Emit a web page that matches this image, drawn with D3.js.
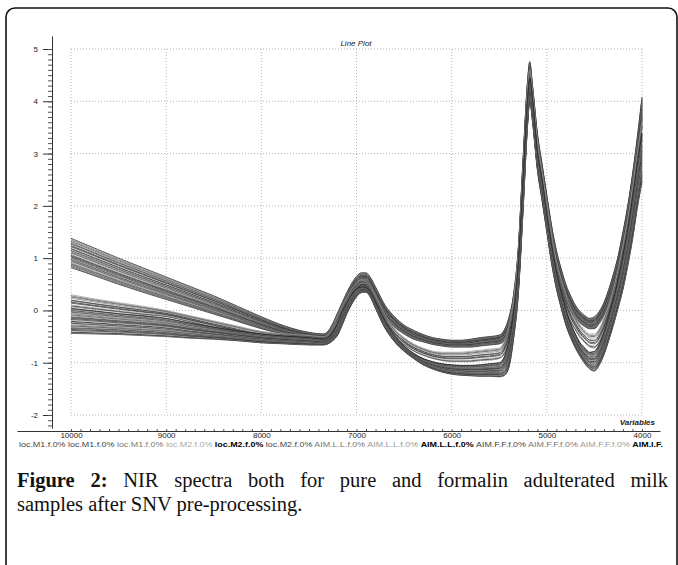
<!DOCTYPE html>
<head>
  <meta charset="utf-8">
  <title>NIR spectra</title>
  <script src="https://d3js.org/d3.v7.min.js"></script>
  <style>
    body { margin:0; background:#fff; }
    svg { display:block; }
    text { font-family: "Liberation Sans", Arial, sans-serif; }
  </style>
</head>
<body>
  <svg width="678" height="565"></svg>
  <script>
    var wavenumbers = [10000, 9750, 9500, 9250, 9000, 8750, 8500, 8250, 8000, 7750,
      7500, 7350, 7300, 7250, 7200, 7150, 7100, 7050, 7000, 6950,
      6900, 6850, 6800, 6700, 6600, 6500, 6400, 6300, 6200, 6100,
      6000, 5900, 5800, 5700, 5600, 5500, 5450, 5400, 5350, 5300,
      5250, 5200, 5180, 5150, 5100, 5050, 5000, 4950, 4900, 4850,
      4800, 4750, 4700, 4650, 4600, 4550, 4500, 4450, 4400, 4350,
      4300, 4250, 4200, 4150, 4100, 4050, 4000];

    // upper bundle (high at 10000), top and bottom edges
    var groupAHi = [1.38, 1.19, 1.00, 0.82, 0.64, 0.46, 0.28, 0.08, -0.12, -0.30,
      -0.42, -0.45, -0.40, -0.25, -0.05, 0.15, 0.35, 0.52, 0.65, 0.72,
      0.72, 0.62, 0.45, 0.10, -0.12, -0.28, -0.38, -0.46, -0.52, -0.55,
      -0.57, -0.57, -0.55, -0.52, -0.50, -0.47, -0.38, -0.15, 0.30, 1.20,
      2.90, 4.45, 4.76, 4.30, 3.40, 2.80, 2.20, 1.62, 1.15, 0.80,
      0.50, 0.28, 0.10, -0.02, -0.10, -0.15, -0.12, -0.02, 0.15, 0.40,
      0.70, 1.05, 1.50, 2.00, 2.60, 3.30, 4.08];
    var groupALo = [0.82, 0.66, 0.50, 0.35, 0.21, 0.07, -0.07, -0.21, -0.35, -0.46,
      -0.52, -0.55, -0.55, -0.48, -0.35, -0.10, 0.10, 0.28, 0.40, 0.48,
      0.48, 0.38, 0.20, -0.12, -0.32, -0.45, -0.55, -0.60, -0.65, -0.68,
      -0.70, -0.70, -0.70, -0.68, -0.66, -0.64, -0.58, -0.40, -0.05, 0.70,
      2.30, 4.00, 4.30, 3.90, 3.00, 2.45, 1.85, 1.30, 0.85, 0.50,
      0.20, 0.00, -0.14, -0.24, -0.31, -0.35, -0.35, -0.25, -0.10, 0.12,
      0.40, 0.75, 1.15, 1.60, 2.15, 2.80, 3.50];

    // middle bundle
    var groupBHi = [0.30, 0.22, 0.15, 0.08, 0.00, -0.10, -0.20, -0.30, -0.40, -0.45,
      -0.48, -0.50, -0.46, -0.32, -0.12, 0.08, 0.25, 0.42, 0.52, 0.58,
      0.56, 0.45, 0.28, -0.08, -0.35, -0.52, -0.64, -0.72, -0.78, -0.80,
      -0.80, -0.80, -0.78, -0.76, -0.74, -0.72, -0.60, -0.30, 0.20, 1.10,
      2.70, 4.30, 4.60, 4.20, 3.25, 2.65, 2.05, 1.45, 0.95, 0.60,
      0.30, 0.05, -0.13, -0.28, -0.38, -0.45, -0.45, -0.35, -0.15, 0.10,
      0.42, 0.80, 1.25, 1.75, 2.35, 3.00, 3.60];
    var groupBLo = [0.07, 0.02, -0.03, -0.08, -0.12, -0.22, -0.33, -0.43, -0.52, -0.55,
      -0.58, -0.60, -0.58, -0.50, -0.40, -0.18, 0.02, 0.20, 0.32, 0.40,
      0.40, 0.28, 0.10, -0.25, -0.50, -0.66, -0.78, -0.86, -0.92, -0.96,
      -0.98, -0.98, -0.98, -0.96, -0.95, -0.92, -0.85, -0.60, -0.15, 0.60,
      2.10, 3.85, 4.15, 3.80, 2.90, 2.30, 1.70, 1.10, 0.65, 0.30,
      0.00, -0.22, -0.38, -0.52, -0.62, -0.70, -0.72, -0.62, -0.42, -0.15,
      0.15, 0.50, 0.92, 1.40, 1.95, 2.55, 3.10];

    // lower bundle
    var groupCHi = [0.04, -0.01, -0.06, -0.10, -0.15, -0.24, -0.32, -0.39, -0.45, -0.49,
      -0.52, -0.55, -0.52, -0.42, -0.25, -0.02, 0.15, 0.30, 0.40, 0.45,
      0.44, 0.34, 0.16, -0.20, -0.48, -0.68, -0.82, -0.92, -0.98, -1.02,
      -1.04, -1.05, -1.05, -1.04, -1.02, -1.00, -0.90, -0.60, -0.05, 0.90,
      2.50, 4.10, 4.45, 4.05, 3.05, 2.50, 1.85, 1.25, 0.75, 0.35,
      0.02, -0.25, -0.45, -0.62, -0.72, -0.80, -0.78, -0.65, -0.42, -0.12,
      0.22, 0.60, 1.05, 1.55, 2.15, 2.80, 3.40];
    var groupCLo = [-0.44, -0.45, -0.46, -0.48, -0.50, -0.53, -0.55, -0.58, -0.62, -0.64,
      -0.66, -0.66, -0.64, -0.58, -0.48, -0.28, -0.06, 0.12, 0.26, 0.34,
      0.35, 0.24, 0.04, -0.34, -0.60, -0.78, -0.92, -1.04, -1.12, -1.18,
      -1.22, -1.24, -1.25, -1.26, -1.26, -1.27, -1.25, -1.10, -0.55, 0.30,
      1.90, 3.60, 4.00, 3.60, 2.70, 2.10, 1.50, 0.90, 0.42, 0.05,
      -0.28, -0.52, -0.72, -0.88, -1.02, -1.12, -1.16, -1.05, -0.85, -0.58,
      -0.28, 0.05, 0.40, 0.85, 1.35, 1.95, 2.45];

    // position of every sample inside its bundle (0 = bottom edge, 1 = top edge)
    var samplesA = [0, 0.03, 0.07, 0.1, 0.12, 0.15, 0.18, 0.22, 0.25, 0.28, 0.3, 0.33, 0.37,
      0.4, 0.42, 0.45, 0.5, 0.53, 0.55, 0.58, 0.62, 0.65, 0.7, 0.72, 0.75, 0.8, 0.83,
      0.86, 0.9, 0.94, 0.97, 1];
    var samplesB = [0, 0.08, 0.15, 0.3, 0.38, 0.5, 0.55, 0.7, 0.82, 0.9, 1];
    var samplesC = [0, 0.02, 0.05, 0.09, 0.12, 0.16, 0.2, 0.23, 0.27, 0.3, 0.34, 0.38,
      0.41, 0.45, 0.48, 0.52, 0.56, 0.6, 0.63, 0.66, 0.7, 0.74, 0.78, 0.81, 0.85,
      0.88, 0.92, 0.95, 0.98, 1];
    var lineGreys = ['#222', '#555', '#333', '#888', '#444', '#666', '#999', '#2a2a2a', '#777', '#111', '#aaa', '#3c3c3c'];

    var xTicks = [10000, 9000, 8000, 7000, 6000, 5000, 4000];
    var yTicks = [-2, -1, 0, 1, 2, 3, 4, 5];
    var sampleLabels = ['loc.M1.f.0%', 'loc.M1.f.0%', 'loc.M1.f.0%', 'loc.M2.f.0%', 'loc.M2.f.0%', 'loc.M2.f.0%',
      'AIM.L.L.f.0%', 'AIM.L.L.f.0%', 'AIM.L.L.f.0%', 'AIM.F.F.f.0%', 'AIM.F.F.f.0%', 'AIM.F.F.f.0%', 'AIM.I.F.'];
    var labelColors = ['#444', '#444', '#777', '#aaa', '#000', '#444', '#777', '#999', '#000', '#444', '#777', '#999', '#000'];
    var labelBold = [false, false, false, false, true, false, false, false, true, false, false, false, true];
    var captionLine1 = ['Figure', '2:', 'NIR', 'spectra', 'both', 'for', 'pure', 'and', 'formalin', 'adulterated', 'milk'];
    var captionLine2 = 'samples after SNV pre-processing.';

    var svg = d3.select('svg');

    // frame with rounded corners
    svg.append('rect')
      .attr('x', 6).attr('y', 8).attr('width', 671).attr('height', 620)
      .attr('rx', 9)
      .attr('fill', 'none').attr('stroke', '#111').attr('stroke-width', 1.6);

    var x = d3.scaleLinear().domain([10000, 4000]).range([71, 642]);
    var y = d3.scaleLinear().domain([-2, 5]).range([415, 49]);

    // dotted grid
    svg.append('g').selectAll('line').data(yTicks).enter().append('line')
      .attr('x1', x(10000)).attr('x2', x(4000))
      .attr('y1', d => y(d)).attr('y2', d => y(d))
      .attr('stroke', '#b5b5b5').attr('stroke-dasharray', '1,2');
    svg.append('g').selectAll('line').data(xTicks).enter().append('line')
      .attr('x1', d => x(d)).attr('x2', d => x(d))
      .attr('y1', y(5)).attr('y2', y(-2))
      .attr('stroke', '#b5b5b5').attr('stroke-dasharray', '1,2');

    // spectra
    var line = d3.line()
      .x((d, i) => x(wavenumbers[i]))
      .y(d => y(d))
      .curve(d3.curveMonotoneX);

    var spectra = [];
    [[groupAHi, groupALo, samplesA], [groupBHi, groupBLo, samplesB], [groupCHi, groupCLo, samplesC]]
      .forEach(g => {
        g[2].forEach(t => {
          spectra.push(g[1].map((lo, i) => lo + t * (g[0][i] - lo)));
        });
      });

    svg.append('g').selectAll('path').data(spectra).enter().append('path')
      .attr('d', d => line(d))
      .attr('fill', 'none')
      .attr('stroke', (d, i) => lineGreys[i % lineGreys.length])
      .attr('stroke-width', 0.75);

    // y axis
    var yAxisScale = y.copy().domain([-2.25, 5.25]).range([y(-2.25), y(5.25)]);
    svg.append('g')
      .attr('transform', 'translate(52,0)')
      .call(d3.axisLeft(yAxisScale).tickValues(yTicks).tickSize(9).tickSizeOuter(0)
        .tickPadding(5).tickFormat(d => String(d)))
      .call(g => g.selectAll('text').attr('font-size', 8).attr('fill', '#222').style('font-family', '"Liberation Sans", Arial'))
      .call(g => g.selectAll('line, path').attr('stroke', '#333'));
    svg.append('g')
      .attr('transform', 'translate(52,0)')
      .call(d3.axisLeft(yAxisScale).tickValues(d3.range(-22, 51).map(v => v / 10)).tickSize(4).tickFormat(''))
      .call(g => g.select('.domain').remove())
      .call(g => g.selectAll('line').attr('stroke', '#555'));

    // x axis
    var xAxisScale = x.copy().domain([x.invert(17), x.invert(660)]).range([17, 660]);
    svg.append('g')
      .attr('transform', 'translate(0,431)')
      .call(d3.axisBottom(xAxisScale).tickValues(xTicks).tickSize(0).tickSizeOuter(0).tickPadding(1)
        .tickFormat(d => String(d)))
      .call(g => g.selectAll('text').attr('font-size', 8).attr('fill', '#222').style('font-family', '"Liberation Sans", Arial'))
      .call(g => g.select('.domain').attr('stroke', '#333'));
    svg.append('g')
      .attr('transform', 'translate(0,431)')
      .call(d3.axisBottom(xAxisScale).tickValues(d3.range(40, 101).map(v => v * 100)).tickSize(-2).tickFormat(''))
      .call(g => g.select('.domain').remove())
      .call(g => g.selectAll('line').attr('stroke', '#555'));

    // titles
    svg.append('text').attr('x', 356).attr('y', 46).attr('text-anchor', 'middle')
      .attr('font-size', 8).attr('font-style', 'italic').attr('fill', '#222').text('Line Plot');
    svg.append('text').attr('x', 655).attr('y', 425).attr('text-anchor', 'end')
      .attr('font-size', 8).attr('font-style', 'italic').attr('font-weight', 'bold').attr('fill', '#222').text('Variables');

    // sample label strip
    var strip = svg.append('text').attr('x', 19).attr('y', 447).attr('font-size', 8)
      .attr('textLength', 644).attr('lengthAdjust', 'spacingAndGlyphs');
    strip.selectAll('tspan').data(sampleLabels).enter().append('tspan')
      .attr('fill', (d, i) => labelColors[i])
      .attr('font-weight', (d, i) => labelBold[i] ? 'bold' : 'normal')
      .text((d, i) => i < sampleLabels.length - 1 ? d + ' ' : d);

    // caption, first line justified word by word
    var serif = '"Liberation Serif", "Times New Roman", serif';
    var capSize = 20.5;
    var words = svg.append('g').selectAll('text').data(captionLine1).enter().append('text')
      .attr('y', 487)
      .style('font-family', serif).attr('font-size', capSize).attr('fill', '#111')
      .attr('font-weight', (d, i) => i < 2 ? 'bold' : 'normal')
      .text(d => d);
    var widths = words.nodes().map(n => n.getComputedTextLength());
    var gap = (651 - d3.sum(widths)) / (captionLine1.length - 1);
    var pos = 17;
    words.attr('x', (d, i) => { var p = pos; pos += widths[i] + gap; return p; });

    svg.append('text').attr('x', 17).attr('y', 511)
      .style('font-family', serif).attr('font-size', capSize).attr('fill', '#111')
      .text(captionLine2);
  </script>
</body>
